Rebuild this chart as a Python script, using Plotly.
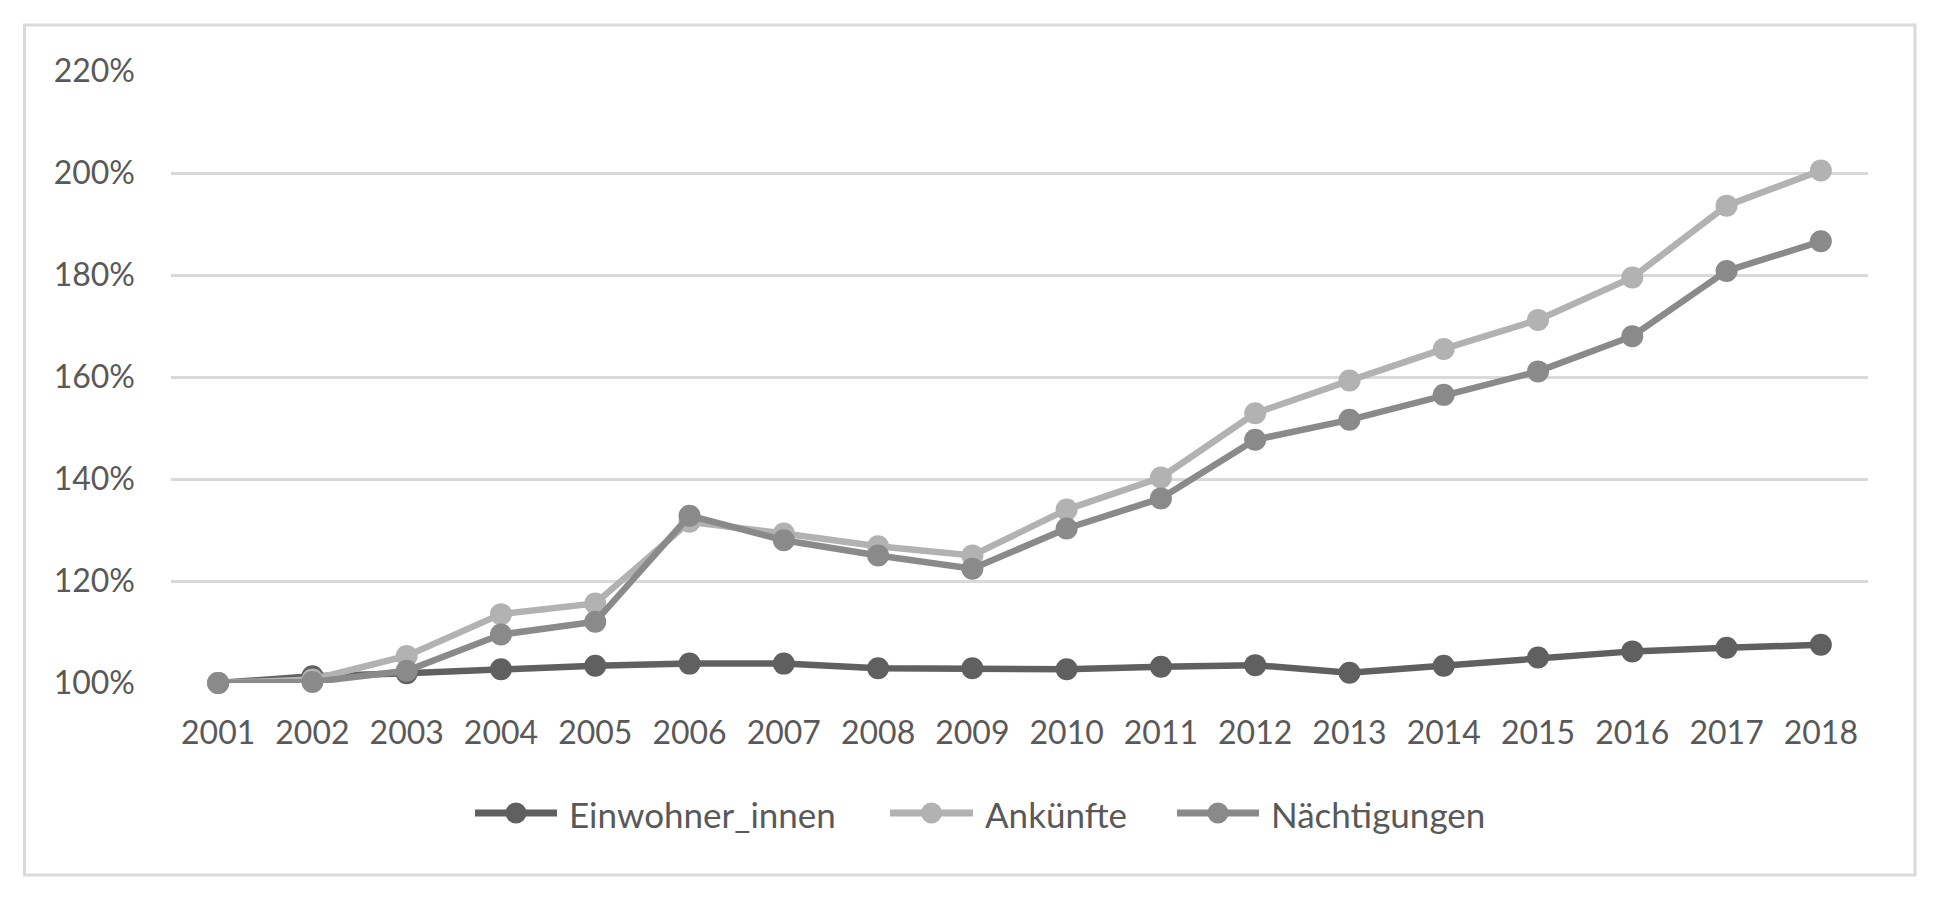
import plotly.graph_objects as go

years = [str(y) for y in range(2001, 2019)]
einwohner = [100.0, 101.3, 101.9, 102.7, 103.4, 103.8, 103.8, 102.9, 102.9, 102.7,
             103.2, 103.5, 102.0, 103.4, 105.0, 106.2, 106.9, 107.5]
ankuenfte = [100.0, 100.7, 105.3, 113.5, 115.6, 131.6, 129.3, 126.8, 125.0, 134.0,
             140.3, 152.9, 159.3, 165.5, 171.2, 179.5, 193.6, 200.5]
naechtigungen = [100.0, 100.2, 102.4, 109.5, 112.0, 132.8, 128.0, 125.0, 122.4, 130.3,
                 136.2, 147.7, 151.6, 156.5, 161.1, 168.0, 180.8, 186.6]
y_ticks = [100, 120, 140, 160, 180, 200, 220]
y_ticklabels = [f"{v}%" for v in y_ticks]

series = [
    ("Einwohner_innen", einwohner, "#606060"),
    ("Ankünfte", ankuenfte, "#b2b2b2"),
    ("Nächtigungen", naechtigungen, "#8a8a8a"),
]

FONT = "Lato"
TXT = "#595959"

# page body adds an 8px offset, so figure coordinates are shifted by -8
OFF = 8
W, H = 1941 - 2 * OFF, 902 - 2 * OFF
L, R, T, B = 171 - OFF, 1868 - OFF, 71 - OFF, 683 - OFF
pw, ph = R - L, B - T


def px(x):
    return (x - OFF - L) / pw


def py(y):
    return (B - (y - OFF)) / ph


fig = go.Figure()
for name, vals, col in series:
    fig.add_trace(go.Scatter(
        x=years, y=vals, name=name, mode="lines+markers",
        line=dict(color=col, width=6.5),
        marker=dict(color=col, size=22),
        cliponaxis=False, showlegend=False,
    ))

shapes = [dict(
    type="rect", xref="paper", yref="paper",
    x0=px(24.5), x1=px(1915), y0=py(875), y1=py(25),
    line=dict(color="#d9d9d9", width=3), layer="below",
)]
annotations = []

# custom legend (reference pixel positions)
legend_items = [(472, 560, 567), (887, 976, 983), (1174, 1262, 1269)]
LEG_Y = 813
for (name, _, col), (lx0, lx1, tx) in zip(series, legend_items):
    shapes.append(dict(
        type="line", xref="paper", yref="paper",
        x0=px(lx0 + 3), x1=px(lx1 - 3), y0=py(LEG_Y), y1=py(LEG_Y),
        line=dict(color=col, width=7),
    ))
    cx = (lx0 + lx1) / 2
    r = 10.5
    shapes.append(dict(
        type="circle", xref="paper", yref="paper",
        x0=px(cx - r), x1=px(cx + r), y0=py(LEG_Y + r), y1=py(LEG_Y - r),
        fillcolor=col, line=dict(color=col, width=0),
    ))
    annotations.append(dict(
        text=name, xref="paper", yref="paper", x=px(tx), y=py(LEG_Y + 1),
        xanchor="left", yanchor="middle", showarrow=False,
        font=dict(family=FONT, size=35, color=TXT),
    ))

fig.update_layout(
    width=W, height=H,
    margin=dict(l=L, r=W - R, t=T, b=H - B, pad=0),
    paper_bgcolor="white", plot_bgcolor="white",
    font=dict(family=FONT, size=32, color=TXT),
    showlegend=False,
    xaxis=dict(
        type="category", range=[-0.5, len(years) - 0.5],
        showgrid=False, zeroline=False, showline=False,
        ticks="", tickfont=dict(family=FONT, size=32, color=TXT),
        ticklabelstandoff=28,
    ),
    yaxis=dict(
        range=[100, 220], tickvals=y_ticks, ticktext=y_ticklabels,
        showgrid=True, gridcolor="#d9d9d9", gridwidth=3,
        zeroline=False, showline=False, ticks="",
        tickfont=dict(family=FONT, size=32, color=TXT),
        ticklabelstandoff=35,
    ),
    shapes=shapes,
    annotations=annotations,
)

fig.write_html("out.html")
